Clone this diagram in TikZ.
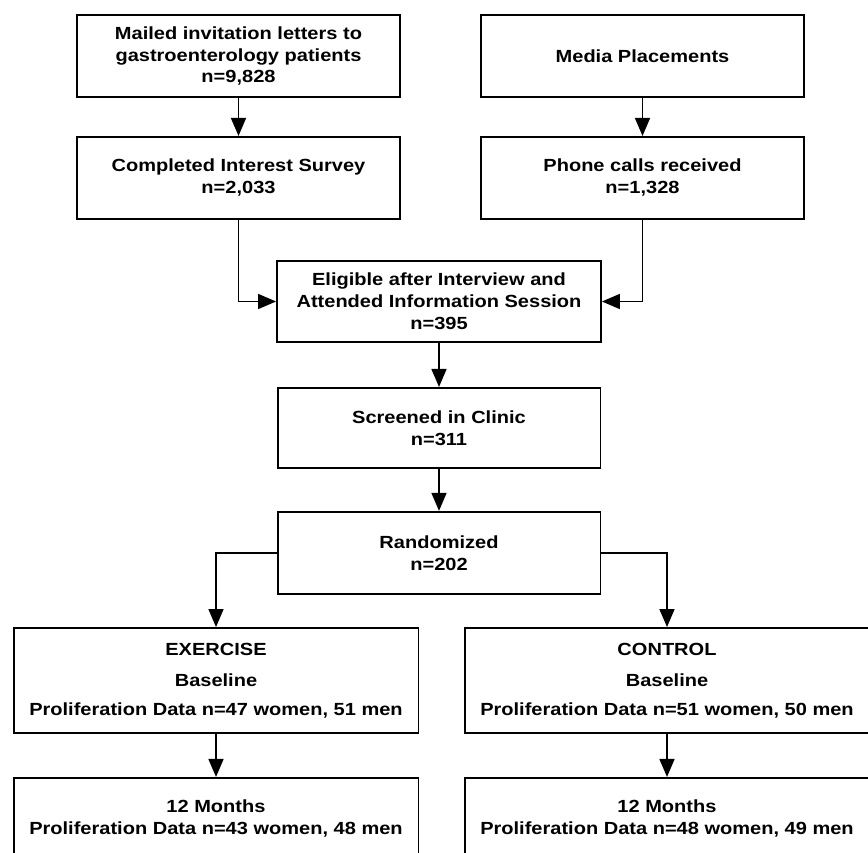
\documentclass[tikz,border=0pt]{standalone}
\usepackage{fontspec}
\setmainfont[FakeStretch=1.14]{Liberation Sans}
\usepackage{tikz}
\usetikzlibrary{arrows.meta, positioning}
\tikzstyle{block} = [draw, rectangle, line width=1.1pt, align=center, inner sep=2pt, font=\fontsize{10}{12.5}\selectfont\bfseries]
\tikzstyle{box} = [block, minimum width=6.46cm, minimum height=1.64cm]
\tikzstyle{wide} = [block, minimum width=8.1cm, minimum height=2.1cm]
\tikzstyle{line} = [line width=0.9pt]
\tikzstyle{arrow} = [line, -{Triangle[length=0.36cm, width=0.3cm]}]

\begin{document}
\begin{tikzpicture}[x=0.02cm, y=-0.02cm, node distance=0.76cm]
    \useasboundingbox (0,0) rectangle (868,852);
    \clip (0,0) rectangle (868,852);
    \node (mailed) [box] at (238.5,56) {Mailed invitation letters to\\gastroenterology patients\\n=9,828};
    \node (media) [box] at (642.5,56) {Media Placements};
    \node (survey) [box, below=of mailed] {Completed Interest Survey\\n=2,033};
    \node (phone) [box, below=of media] {Phone calls received\\n=1,328};
    \node (eligible) [box, minimum width=6.48cm, minimum height=1.62cm] at (439,301.5) {Eligible after Interview and\\Attended Information Session\\n=395};
    \node (screened) [box, minimum height=1.6cm, below=0.88cm of eligible] {Screened in Clinic\\n=311};
    \node (random) [box, below=0.84cm of screened] {Randomized\\n=202};
    \node (exercise) [wide] at (216,680.5) {EXERCISE\\[5pt]Baseline\\[4pt]Proliferation Data n=47 women, 51 men};
    \node (control) [wide] at (667,680.5) {CONTROL\\[5pt]Baseline\\[4pt]Proliferation Data n=51 women, 50 men};
    \node (exercise 12) [wide, minimum height=1.64cm, below=0.86cm of exercise] {12 Months\\Proliferation Data n=43 women, 48 men};
    \node (control 12) [wide, minimum height=1.64cm, below=0.86cm of control] {12 Months\\Proliferation Data n=48 women, 49 men};

    % Arrows.
    \draw [arrow] (mailed) -- (survey);
    \draw [arrow] (media) -- (phone);
    \draw [arrow] (survey) |- (eligible);
    \draw [arrow] (phone) |- (eligible);
    \draw [arrow] (eligible) -- (screened);
    \draw [arrow] (screened) -- (random);
    \draw [arrow] (random) -| (exercise);
    \draw [arrow] (random) -| (control);
    \draw [arrow] (exercise) -- (exercise 12);
    \draw [arrow] (control) -- (control 12);
\end{tikzpicture}
\end{document}
